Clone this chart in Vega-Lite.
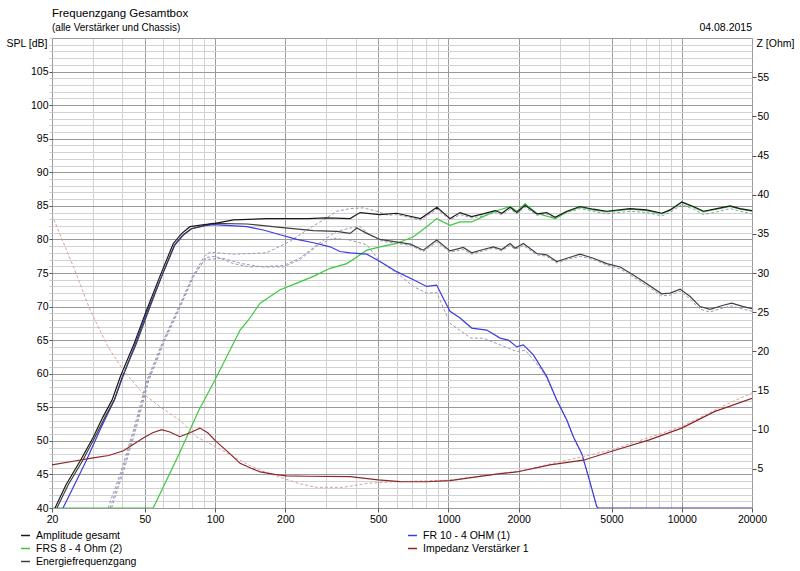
{
  "$schema": "https://vega.github.io/schema/vega-lite/v6.json",
  "autosize": "none",
  "padding": {"left": 52, "top": 38, "right": 48, "bottom": 63},
  "width": 700,
  "height": 470,
  "background": "white",
  "title": {
    "text": "Frequenzgang Gesamtbox",
    "subtitle": "(alle Verstärker und Chassis)",
    "anchor": "start",
    "frame": "group",
    "offset": -10,
    "font": "Liberation Sans",
    "fontSize": 11.5,
    "fontWeight": "normal",
    "color": "#000000",
    "subtitleFont": "Liberation Sans",
    "subtitleFontSize": 10,
    "subtitleColor": "#000000",
    "subtitlePadding": 4
  },
  "datasets": {
    "curves": [
      {"s": "dA", "f": 34.8, "v": 40}, {"s": "dA", "f": 40, "v": 46}, {"s": "dA", "f": 45, "v": 52}, {"s": "dA", "f": 51, "v": 59},
      {"s": "dA", "f": 60, "v": 65}, {"s": "dA", "f": 70, "v": 70}, {"s": "dA", "f": 80, "v": 74.5}, {"s": "dA", "f": 90, "v": 77.5},
      {"s": "dA", "f": 95, "v": 78.1}, {"s": "dA", "f": 120, "v": 77.8}, {"s": "dA", "f": 166, "v": 78.0}, {"s": "dA", "f": 209, "v": 79.7},
      {"s": "dA", "f": 255, "v": 81.7}, {"s": "dA", "f": 291, "v": 82.9}, {"s": "dA", "f": 332, "v": 84.2}, {"s": "dA", "f": 379, "v": 84.6},
      {"s": "dA", "f": 432, "v": 84.7}, {"s": "dA", "f": 493, "v": 84.2}, {"s": "dA", "f": 550, "v": 83.6}, {"s": "dA", "f": 600, "v": 83.7},
      {"s": "dA", "f": 760, "v": 82.9}, {"s": "dA", "f": 893, "v": 84.5}, {"s": "dA", "f": 1016, "v": 82.9}, {"s": "dA", "f": 1122, "v": 83.7},
      {"s": "dA", "f": 1258, "v": 83.2}, {"s": "dA", "f": 1408, "v": 83.5}, {"s": "dA", "f": 1584, "v": 84.0}, {"s": "dA", "f": 1693, "v": 83.7},
      {"s": "dA", "f": 1838, "v": 84.5}, {"s": "dA", "f": 1964, "v": 83.8}, {"s": "dA", "f": 2132, "v": 84.8}, {"s": "dA", "f": 2392, "v": 83.6},
      {"s": "dA", "f": 2637, "v": 83.8}, {"s": "dA", "f": 2866, "v": 83.1}, {"s": "dA", "f": 3217, "v": 84.0}, {"s": "dA", "f": 3666, "v": 84.6},
      {"s": "dA", "f": 4180, "v": 84.2}, {"s": "dA", "f": 4772, "v": 83.8}, {"s": "dA", "f": 6008, "v": 84.2}, {"s": "dA", "f": 7080, "v": 84.0},
      {"s": "dA", "f": 8205, "v": 83.5}, {"s": "dA", "f": 8912, "v": 84.0}, {"s": "dA", "f": 10000, "v": 85.2}, {"s": "dA", "f": 11220, "v": 84.5},
      {"s": "dA", "f": 12390, "v": 83.7}, {"s": "dA", "f": 14130, "v": 84.1}, {"s": "dA", "f": 16110, "v": 84.6}, {"s": "dA", "f": 17780, "v": 84.2},
      {"s": "dA", "f": 20000, "v": 83.8},

      {"s": "dE", "f": 36, "v": 40}, {"s": "dE", "f": 41, "v": 46}, {"s": "dE", "f": 46, "v": 52}, {"s": "dE", "f": 52, "v": 59},
      {"s": "dE", "f": 61, "v": 65}, {"s": "dE", "f": 71, "v": 70}, {"s": "dE", "f": 81, "v": 74.5}, {"s": "dE", "f": 91, "v": 77.3},
      {"s": "dE", "f": 100, "v": 77.5}, {"s": "dE", "f": 120, "v": 76.4}, {"s": "dE", "f": 141, "v": 75.9}, {"s": "dE", "f": 196, "v": 76.1},
      {"s": "dE", "f": 231, "v": 77.2}, {"s": "dE", "f": 273, "v": 79.2}, {"s": "dE", "f": 301, "v": 80.2}, {"s": "dE", "f": 332, "v": 81.2},
      {"s": "dE", "f": 379, "v": 81.7}, {"s": "dE", "f": 418, "v": 81.9}, {"s": "dE", "f": 461, "v": 80.7}, {"s": "dE", "f": 524, "v": 79.7},
      {"s": "dE", "f": 577, "v": 79.5}, {"s": "dE", "f": 688, "v": 79.1}, {"s": "dE", "f": 780, "v": 78.2}, {"s": "dE", "f": 891, "v": 79.6},
      {"s": "dE", "f": 1016, "v": 78.1}, {"s": "dE", "f": 1159, "v": 78.5}, {"s": "dE", "f": 1258, "v": 77.8}, {"s": "dE", "f": 1408, "v": 78.3},
      {"s": "dE", "f": 1558, "v": 78.7}, {"s": "dE", "f": 1693, "v": 78.3}, {"s": "dE", "f": 1838, "v": 79.1}, {"s": "dE", "f": 1931, "v": 78.5},
      {"s": "dE", "f": 2095, "v": 79.1}, {"s": "dE", "f": 2392, "v": 77.7}, {"s": "dE", "f": 2637, "v": 77.5}, {"s": "dE", "f": 2913, "v": 76.5},
      {"s": "dE", "f": 3217, "v": 77.0}, {"s": "dE", "f": 3666, "v": 77.5}, {"s": "dE", "f": 4180, "v": 77.0}, {"s": "dE", "f": 4772, "v": 76.2},
      {"s": "dE", "f": 5444, "v": 75.6}, {"s": "dE", "f": 6203, "v": 74.4}, {"s": "dE", "f": 7080, "v": 73.1}, {"s": "dE", "f": 8205, "v": 71.6},
      {"s": "dE", "f": 8912, "v": 71.7}, {"s": "dE", "f": 9844, "v": 72.3}, {"s": "dE", "f": 10860, "v": 71.1}, {"s": "dE", "f": 11980, "v": 69.6},
      {"s": "dE", "f": 13220, "v": 69.2}, {"s": "dE", "f": 15070, "v": 69.8}, {"s": "dE", "f": 16370, "v": 70.1}, {"s": "dE", "f": 18370, "v": 69.6},
      {"s": "dE", "f": 20000, "v": 69.3},

      {"s": "dB", "f": 35.5, "v": 40}, {"s": "dB", "f": 40.5, "v": 46}, {"s": "dB", "f": 45.5, "v": 52}, {"s": "dB", "f": 51.5, "v": 59},
      {"s": "dB", "f": 60.5, "v": 65}, {"s": "dB", "f": 70.5, "v": 70}, {"s": "dB", "f": 80.5, "v": 74.5}, {"s": "dB", "f": 90.5, "v": 77.0},
      {"s": "dB", "f": 108, "v": 77.2}, {"s": "dB", "f": 130, "v": 76.4}, {"s": "dB", "f": 160, "v": 75.9}, {"s": "dB", "f": 196, "v": 75.9},
      {"s": "dB", "f": 231, "v": 77.0}, {"s": "dB", "f": 273, "v": 79.0}, {"s": "dB", "f": 319, "v": 80.2}, {"s": "dB", "f": 379, "v": 79.9},
      {"s": "dB", "f": 447, "v": 79.2}, {"s": "dB", "f": 509, "v": 76.7}, {"s": "dB", "f": 600, "v": 75.0}, {"s": "dB", "f": 708, "v": 73.0},
      {"s": "dB", "f": 807, "v": 72.0}, {"s": "dB", "f": 891, "v": 72.1}, {"s": "dB", "f": 1016, "v": 67.5}, {"s": "dB", "f": 1250, "v": 65.3},
      {"s": "dB", "f": 1408, "v": 65.3}, {"s": "dB", "f": 1665, "v": 64.3}, {"s": "dB", "f": 1964, "v": 63.3}, {"s": "dB", "f": 2140, "v": 63.5},
      {"s": "dB", "f": 2450, "v": 61.0}, {"s": "dB", "f": 2637, "v": 59.4}, {"s": "dB", "f": 2913, "v": 56.0}, {"s": "dB", "f": 3217, "v": 53.0},
      {"s": "dB", "f": 3432, "v": 50.5}, {"s": "dB", "f": 3729, "v": 48.0}, {"s": "dB", "f": 3979, "v": 44.6}, {"s": "dB", "f": 4323, "v": 40.1},

      {"s": "dZ", "f": 20, "v": 37.4}, {"s": "dZ", "f": 24.7, "v": 30.8}, {"s": "dZ", "f": 29.1, "v": 25.3}, {"s": "dZ", "f": 34.7, "v": 20.6},
      {"s": "dZ", "f": 40.4, "v": 17.6}, {"s": "dZ", "f": 49.2, "v": 14.6}, {"s": "dZ", "f": 58.2, "v": 12.9}, {"s": "dZ", "f": 70.6, "v": 11.2},
      {"s": "dZ", "f": 83.1, "v": 9.1}, {"s": "dZ", "f": 101, "v": 7.8}, {"s": "dZ", "f": 128, "v": 6.1}, {"s": "dZ", "f": 141, "v": 5.4},
      {"s": "dZ", "f": 160, "v": 4.7}, {"s": "dZ", "f": 196, "v": 3.8}, {"s": "dZ", "f": 230, "v": 3.1}, {"s": "dZ", "f": 273, "v": 2.64},
      {"s": "dZ", "f": 355, "v": 2.64}, {"s": "dZ", "f": 447, "v": 3.15}, {"s": "dZ", "f": 600, "v": 3.36}, {"s": "dZ", "f": 1000, "v": 3.55},
      {"s": "dZ", "f": 2000, "v": 4.7}, {"s": "dZ", "f": 5000, "v": 7.4}, {"s": "dZ", "f": 10000, "v": 10.4}, {"s": "dZ", "f": 15000, "v": 13.0},
      {"s": "dZ", "f": 20000, "v": 14.7},

      {"s": "FRS 8 - 4 Ohm (2)", "f": 20, "v": 40}, {"s": "FRS 8 - 4 Ohm (2)", "f": 54.3, "v": 40}, {"s": "FRS 8 - 4 Ohm (2)", "f": 70, "v": 48},
      {"s": "FRS 8 - 4 Ohm (2)", "f": 85, "v": 54.5}, {"s": "FRS 8 - 4 Ohm (2)", "f": 100, "v": 59.1}, {"s": "FRS 8 - 4 Ohm (2)", "f": 128, "v": 66.5},
      {"s": "FRS 8 - 4 Ohm (2)", "f": 139, "v": 68.0}, {"s": "FRS 8 - 4 Ohm (2)", "f": 156, "v": 70.5}, {"s": "FRS 8 - 4 Ohm (2)", "f": 190, "v": 72.5},
      {"s": "FRS 8 - 4 Ohm (2)", "f": 224, "v": 73.5}, {"s": "FRS 8 - 4 Ohm (2)", "f": 264, "v": 74.5}, {"s": "FRS 8 - 4 Ohm (2)", "f": 311, "v": 75.7},
      {"s": "FRS 8 - 4 Ohm (2)", "f": 367, "v": 76.4}, {"s": "FRS 8 - 4 Ohm (2)", "f": 405, "v": 77.4}, {"s": "FRS 8 - 4 Ohm (2)", "f": 447, "v": 78.4},
      {"s": "FRS 8 - 4 Ohm (2)", "f": 509, "v": 78.9}, {"s": "FRS 8 - 4 Ohm (2)", "f": 600, "v": 79.4}, {"s": "FRS 8 - 4 Ohm (2)", "f": 708, "v": 80.4},
      {"s": "FRS 8 - 4 Ohm (2)", "f": 807, "v": 81.9}, {"s": "FRS 8 - 4 Ohm (2)", "f": 891, "v": 83.1}, {"s": "FRS 8 - 4 Ohm (2)", "f": 1016, "v": 82.1},
      {"s": "FRS 8 - 4 Ohm (2)", "f": 1122, "v": 82.6}, {"s": "FRS 8 - 4 Ohm (2)", "f": 1258, "v": 82.6}, {"s": "FRS 8 - 4 Ohm (2)", "f": 1408, "v": 83.4},
      {"s": "FRS 8 - 4 Ohm (2)", "f": 1584, "v": 84.2}, {"s": "FRS 8 - 4 Ohm (2)", "f": 1838, "v": 84.9}, {"s": "FRS 8 - 4 Ohm (2)", "f": 1964, "v": 84.2},
      {"s": "FRS 8 - 4 Ohm (2)", "f": 2132, "v": 85.3}, {"s": "FRS 8 - 4 Ohm (2)", "f": 2392, "v": 83.9}, {"s": "FRS 8 - 4 Ohm (2)", "f": 2866, "v": 83.1},
      {"s": "FRS 8 - 4 Ohm (2)", "f": 3217, "v": 84.1}, {"s": "FRS 8 - 4 Ohm (2)", "f": 3666, "v": 84.8}, {"s": "FRS 8 - 4 Ohm (2)", "f": 4180, "v": 84.4},
      {"s": "FRS 8 - 4 Ohm (2)", "f": 4772, "v": 84.1}, {"s": "FRS 8 - 4 Ohm (2)", "f": 6008, "v": 84.5}, {"s": "FRS 8 - 4 Ohm (2)", "f": 7080, "v": 84.3},
      {"s": "FRS 8 - 4 Ohm (2)", "f": 8205, "v": 83.8}, {"s": "FRS 8 - 4 Ohm (2)", "f": 8912, "v": 84.3}, {"s": "FRS 8 - 4 Ohm (2)", "f": 10000, "v": 85.5},
      {"s": "FRS 8 - 4 Ohm (2)", "f": 11220, "v": 84.8}, {"s": "FRS 8 - 4 Ohm (2)", "f": 12390, "v": 84.1}, {"s": "FRS 8 - 4 Ohm (2)", "f": 14130, "v": 84.5},
      {"s": "FRS 8 - 4 Ohm (2)", "f": 16110, "v": 84.9}, {"s": "FRS 8 - 4 Ohm (2)", "f": 17780, "v": 84.5}, {"s": "FRS 8 - 4 Ohm (2)", "f": 20000, "v": 84.2},

      {"s": "FR 10 - 4 OHM (1)", "f": 22.3, "v": 40}, {"s": "FR 10 - 4 OHM (1)", "f": 25, "v": 43.5}, {"s": "FR 10 - 4 OHM (1)", "f": 28, "v": 47},
      {"s": "FR 10 - 4 OHM (1)", "f": 32, "v": 51.5}, {"s": "FR 10 - 4 OHM (1)", "f": 37, "v": 56.1}, {"s": "FR 10 - 4 OHM (1)", "f": 39.8, "v": 59.1},
      {"s": "FR 10 - 4 OHM (1)", "f": 45, "v": 64}, {"s": "FR 10 - 4 OHM (1)", "f": 51.5, "v": 69.5}, {"s": "FR 10 - 4 OHM (1)", "f": 59, "v": 74.5},
      {"s": "FR 10 - 4 OHM (1)", "f": 67.3, "v": 79.2}, {"s": "FR 10 - 4 OHM (1)", "f": 73, "v": 80.6}, {"s": "FR 10 - 4 OHM (1)", "f": 79.3, "v": 81.6},
      {"s": "FR 10 - 4 OHM (1)", "f": 90, "v": 82.0}, {"s": "FR 10 - 4 OHM (1)", "f": 98, "v": 82.2}, {"s": "FR 10 - 4 OHM (1)", "f": 137, "v": 81.9},
      {"s": "FR 10 - 4 OHM (1)", "f": 161, "v": 81.4}, {"s": "FR 10 - 4 OHM (1)", "f": 190, "v": 80.7}, {"s": "FR 10 - 4 OHM (1)", "f": 224, "v": 80.0},
      {"s": "FR 10 - 4 OHM (1)", "f": 264, "v": 79.5}, {"s": "FR 10 - 4 OHM (1)", "f": 311, "v": 78.9}, {"s": "FR 10 - 4 OHM (1)", "f": 343, "v": 78.2},
      {"s": "FR 10 - 4 OHM (1)", "f": 379, "v": 78.0}, {"s": "FR 10 - 4 OHM (1)", "f": 447, "v": 77.8}, {"s": "FR 10 - 4 OHM (1)", "f": 509, "v": 76.7},
      {"s": "FR 10 - 4 OHM (1)", "f": 600, "v": 75.2}, {"s": "FR 10 - 4 OHM (1)", "f": 708, "v": 74.0}, {"s": "FR 10 - 4 OHM (1)", "f": 807, "v": 73.0},
      {"s": "FR 10 - 4 OHM (1)", "f": 891, "v": 73.2}, {"s": "FR 10 - 4 OHM (1)", "f": 936, "v": 71.7}, {"s": "FR 10 - 4 OHM (1)", "f": 1016, "v": 69.3},
      {"s": "FR 10 - 4 OHM (1)", "f": 1122, "v": 68.3}, {"s": "FR 10 - 4 OHM (1)", "f": 1258, "v": 66.8}, {"s": "FR 10 - 4 OHM (1)", "f": 1460, "v": 66.5},
      {"s": "FR 10 - 4 OHM (1)", "f": 1665, "v": 65.3}, {"s": "FR 10 - 4 OHM (1)", "f": 1807, "v": 65.0}, {"s": "FR 10 - 4 OHM (1)", "f": 1964, "v": 64.0},
      {"s": "FR 10 - 4 OHM (1)", "f": 2095, "v": 64.3}, {"s": "FR 10 - 4 OHM (1)", "f": 2312, "v": 62.8}, {"s": "FR 10 - 4 OHM (1)", "f": 2637, "v": 59.6},
      {"s": "FR 10 - 4 OHM (1)", "f": 2913, "v": 56.1}, {"s": "FR 10 - 4 OHM (1)", "f": 3217, "v": 53.1}, {"s": "FR 10 - 4 OHM (1)", "f": 3432, "v": 50.6},
      {"s": "FR 10 - 4 OHM (1)", "f": 3729, "v": 48.1}, {"s": "FR 10 - 4 OHM (1)", "f": 3979, "v": 44.7}, {"s": "FR 10 - 4 OHM (1)", "f": 4323, "v": 40.2},
      {"s": "FR 10 - 4 OHM (1)", "f": 4400, "v": 40}, {"s": "FR 10 - 4 OHM (1)", "f": 20000, "v": 40},

      {"s": "Energiefrequenzgang", "f": 21, "v": 40}, {"s": "Energiefrequenzgang", "f": 23.5, "v": 43.5}, {"s": "Energiefrequenzgang", "f": 27, "v": 47},
      {"s": "Energiefrequenzgang", "f": 30.5, "v": 50.5}, {"s": "Energiefrequenzgang", "f": 33.7, "v": 53.5}, {"s": "Energiefrequenzgang", "f": 37, "v": 56.1},
      {"s": "Energiefrequenzgang", "f": 40, "v": 59.5}, {"s": "Energiefrequenzgang", "f": 46, "v": 64.5}, {"s": "Energiefrequenzgang", "f": 52, "v": 69.5},
      {"s": "Energiefrequenzgang", "f": 59, "v": 74.5}, {"s": "Energiefrequenzgang", "f": 67, "v": 79.2}, {"s": "Energiefrequenzgang", "f": 73, "v": 80.7},
      {"s": "Energiefrequenzgang", "f": 79, "v": 81.6}, {"s": "Energiefrequenzgang", "f": 90, "v": 82.1}, {"s": "Energiefrequenzgang", "f": 98, "v": 82.4},
      {"s": "Energiefrequenzgang", "f": 137, "v": 82.3}, {"s": "Energiefrequenzgang", "f": 190, "v": 81.8}, {"s": "Energiefrequenzgang", "f": 264, "v": 81.3},
      {"s": "Energiefrequenzgang", "f": 332, "v": 81.2}, {"s": "Energiefrequenzgang", "f": 379, "v": 80.9}, {"s": "Energiefrequenzgang", "f": 405, "v": 81.7},
      {"s": "Energiefrequenzgang", "f": 447, "v": 80.9}, {"s": "Energiefrequenzgang", "f": 509, "v": 80.0}, {"s": "Energiefrequenzgang", "f": 577, "v": 79.7},
      {"s": "Energiefrequenzgang", "f": 688, "v": 79.3}, {"s": "Energiefrequenzgang", "f": 780, "v": 78.4}, {"s": "Energiefrequenzgang", "f": 891, "v": 79.9},
      {"s": "Energiefrequenzgang", "f": 1016, "v": 78.3}, {"s": "Energiefrequenzgang", "f": 1159, "v": 78.8}, {"s": "Energiefrequenzgang", "f": 1258, "v": 78.0},
      {"s": "Energiefrequenzgang", "f": 1408, "v": 78.5}, {"s": "Energiefrequenzgang", "f": 1558, "v": 78.9}, {"s": "Energiefrequenzgang", "f": 1693, "v": 78.5},
      {"s": "Energiefrequenzgang", "f": 1838, "v": 79.4}, {"s": "Energiefrequenzgang", "f": 1931, "v": 78.7}, {"s": "Energiefrequenzgang", "f": 2095, "v": 79.4},
      {"s": "Energiefrequenzgang", "f": 2392, "v": 77.9}, {"s": "Energiefrequenzgang", "f": 2637, "v": 77.7}, {"s": "Energiefrequenzgang", "f": 2913, "v": 76.7},
      {"s": "Energiefrequenzgang", "f": 3217, "v": 77.2}, {"s": "Energiefrequenzgang", "f": 3666, "v": 77.8}, {"s": "Energiefrequenzgang", "f": 4180, "v": 77.2},
      {"s": "Energiefrequenzgang", "f": 4772, "v": 76.4}, {"s": "Energiefrequenzgang", "f": 5444, "v": 75.9}, {"s": "Energiefrequenzgang", "f": 6203, "v": 74.7},
      {"s": "Energiefrequenzgang", "f": 7080, "v": 73.4}, {"s": "Energiefrequenzgang", "f": 8205, "v": 71.9}, {"s": "Energiefrequenzgang", "f": 8912, "v": 72.0},
      {"s": "Energiefrequenzgang", "f": 9844, "v": 72.6}, {"s": "Energiefrequenzgang", "f": 10860, "v": 71.5}, {"s": "Energiefrequenzgang", "f": 11980, "v": 70.0},
      {"s": "Energiefrequenzgang", "f": 13220, "v": 69.6}, {"s": "Energiefrequenzgang", "f": 15070, "v": 70.2}, {"s": "Energiefrequenzgang", "f": 16370, "v": 70.5},
      {"s": "Energiefrequenzgang", "f": 18370, "v": 70.0}, {"s": "Energiefrequenzgang", "f": 20000, "v": 69.7},

      {"s": "Amplitude gesamt", "f": 20.6, "v": 40}, {"s": "Amplitude gesamt", "f": 23, "v": 43.5}, {"s": "Amplitude gesamt", "f": 26.4, "v": 47},
      {"s": "Amplitude gesamt", "f": 30, "v": 50.5}, {"s": "Amplitude gesamt", "f": 33, "v": 53.5}, {"s": "Amplitude gesamt", "f": 36.2, "v": 56.1},
      {"s": "Amplitude gesamt", "f": 39.2, "v": 59.5}, {"s": "Amplitude gesamt", "f": 45, "v": 64.5}, {"s": "Amplitude gesamt", "f": 50.9, "v": 69.5},
      {"s": "Amplitude gesamt", "f": 58, "v": 74.5}, {"s": "Amplitude gesamt", "f": 66.2, "v": 79.4}, {"s": "Amplitude gesamt", "f": 72, "v": 80.9},
      {"s": "Amplitude gesamt", "f": 78, "v": 81.9}, {"s": "Amplitude gesamt", "f": 90, "v": 82.2}, {"s": "Amplitude gesamt", "f": 100, "v": 82.4},
      {"s": "Amplitude gesamt", "f": 120, "v": 82.9}, {"s": "Amplitude gesamt", "f": 166, "v": 83.1}, {"s": "Amplitude gesamt", "f": 250, "v": 83.1},
      {"s": "Amplitude gesamt", "f": 300, "v": 83.2}, {"s": "Amplitude gesamt", "f": 379, "v": 83.1}, {"s": "Amplitude gesamt", "f": 418, "v": 84.0},
      {"s": "Amplitude gesamt", "f": 509, "v": 83.7}, {"s": "Amplitude gesamt", "f": 600, "v": 83.9}, {"s": "Amplitude gesamt", "f": 760, "v": 83.1},
      {"s": "Amplitude gesamt", "f": 893, "v": 84.8}, {"s": "Amplitude gesamt", "f": 1016, "v": 83.1}, {"s": "Amplitude gesamt", "f": 1122, "v": 84.0},
      {"s": "Amplitude gesamt", "f": 1258, "v": 83.4}, {"s": "Amplitude gesamt", "f": 1408, "v": 83.8}, {"s": "Amplitude gesamt", "f": 1584, "v": 84.3},
      {"s": "Amplitude gesamt", "f": 1693, "v": 83.9}, {"s": "Amplitude gesamt", "f": 1838, "v": 84.8}, {"s": "Amplitude gesamt", "f": 1964, "v": 84.0},
      {"s": "Amplitude gesamt", "f": 2132, "v": 85.1}, {"s": "Amplitude gesamt", "f": 2392, "v": 83.8}, {"s": "Amplitude gesamt", "f": 2637, "v": 84.0},
      {"s": "Amplitude gesamt", "f": 2866, "v": 83.3}, {"s": "Amplitude gesamt", "f": 3217, "v": 84.2}, {"s": "Amplitude gesamt", "f": 3666, "v": 84.9},
      {"s": "Amplitude gesamt", "f": 4180, "v": 84.5}, {"s": "Amplitude gesamt", "f": 4772, "v": 84.2}, {"s": "Amplitude gesamt", "f": 6008, "v": 84.6},
      {"s": "Amplitude gesamt", "f": 7080, "v": 84.4}, {"s": "Amplitude gesamt", "f": 8205, "v": 83.9}, {"s": "Amplitude gesamt", "f": 8912, "v": 84.4},
      {"s": "Amplitude gesamt", "f": 10000, "v": 85.6}, {"s": "Amplitude gesamt", "f": 11220, "v": 84.9}, {"s": "Amplitude gesamt", "f": 12390, "v": 84.2},
      {"s": "Amplitude gesamt", "f": 14130, "v": 84.6}, {"s": "Amplitude gesamt", "f": 16110, "v": 85.0}, {"s": "Amplitude gesamt", "f": 17780, "v": 84.6},
      {"s": "Amplitude gesamt", "f": 20000, "v": 84.3},

      {"s": "Impedanz Verstärker 1", "f": 20, "v": 5.5}, {"s": "Impedanz Verstärker 1", "f": 25, "v": 6.0}, {"s": "Impedanz Verstärker 1", "f": 30, "v": 6.4},
      {"s": "Impedanz Verstärker 1", "f": 35, "v": 6.7}, {"s": "Impedanz Verstärker 1", "f": 40.5, "v": 7.3}, {"s": "Impedanz Verstärker 1", "f": 49, "v": 8.9},
      {"s": "Impedanz Verstärker 1", "f": 54, "v": 9.6}, {"s": "Impedanz Verstärker 1", "f": 59, "v": 10.0}, {"s": "Impedanz Verstärker 1", "f": 64, "v": 9.7},
      {"s": "Impedanz Verstärker 1", "f": 70.6, "v": 9.1}, {"s": "Impedanz Verstärker 1", "f": 78, "v": 9.6}, {"s": "Impedanz Verstärker 1", "f": 86, "v": 10.2},
      {"s": "Impedanz Verstärker 1", "f": 93, "v": 9.6}, {"s": "Impedanz Verstärker 1", "f": 101, "v": 8.5}, {"s": "Impedanz Verstärker 1", "f": 115, "v": 7.0},
      {"s": "Impedanz Verstärker 1", "f": 128, "v": 5.7}, {"s": "Impedanz Verstärker 1", "f": 142, "v": 5.1}, {"s": "Impedanz Verstärker 1", "f": 156, "v": 4.6},
      {"s": "Impedanz Verstärker 1", "f": 180, "v": 4.3}, {"s": "Impedanz Verstärker 1", "f": 202, "v": 4.1}, {"s": "Impedanz Verstärker 1", "f": 250, "v": 4.05},
      {"s": "Impedanz Verstärker 1", "f": 379, "v": 4.0}, {"s": "Impedanz Verstärker 1", "f": 500, "v": 3.6}, {"s": "Impedanz Verstärker 1", "f": 620, "v": 3.36},
      {"s": "Impedanz Verstärker 1", "f": 800, "v": 3.35}, {"s": "Impedanz Verstärker 1", "f": 1016, "v": 3.5}, {"s": "Impedanz Verstärker 1", "f": 1415, "v": 4.1},
      {"s": "Impedanz Verstärker 1", "f": 1665, "v": 4.4}, {"s": "Impedanz Verstärker 1", "f": 1964, "v": 4.6}, {"s": "Impedanz Verstärker 1", "f": 2726, "v": 5.5},
      {"s": "Impedanz Verstärker 1", "f": 3782, "v": 6.1}, {"s": "Impedanz Verstärker 1", "f": 5220, "v": 7.4}, {"s": "Impedanz Verstärker 1", "f": 7256, "v": 8.7},
      {"s": "Impedanz Verstärker 1", "f": 10000, "v": 10.2}, {"s": "Impedanz Verstärker 1", "f": 13800, "v": 12.3}, {"s": "Impedanz Verstärker 1", "f": 20000, "v": 14.0}
    ],
    "stamp": [{"f": 20000, "v": 110, "t": "04.08.2015"}]
  },
  "data": {"name": "curves"},
  "layer": [
    {
      "encoding": {
        "x": {
          "field": "f",
          "type": "quantitative",
          "scale": {"type": "log", "domain": [20, 20000]},
          "axis": {
            "title": null,
            "values": [20, 30, 40, 50, 60, 70, 80, 90, 100, 200, 300, 400, 500, 600, 700, 800, 900, 1000, 2000, 3000, 4000, 5000, 6000, 7000, 8000, 9000, 10000, 20000],
            "format": "d",
            "labelExpr": "indexof([20,50,100,200,500,1000,2000,5000,10000,20000], datum.value) >= 0 ? datum.label : ''",
            "labelOverlap": false,
            "labelFlush": false,
            "labelPadding": 2,
            "domain": false,
            "grid": true,
            "gridColor": {"condition": {"test": "indexof([20,50,100,200,500,1000,2000,5000,10000,20000], datum.value) >= 0", "value": "#9a9a9a"}, "value": "#d2d2d2"},
            "tickColor": {"condition": {"test": "indexof([20,50,100,200,500,1000,2000,5000,10000,20000], datum.value) >= 0", "value": "#555555"}, "value": "transparent"},
            "tickSize": 4
          }
        },
        "y": {
          "field": "v",
          "type": "quantitative",
          "scale": {"domain": [40, 110]},
          "axis": {
            "title": "SPL [dB]",
            "titleAngle": 0,
            "titleAlign": "right",
            "titleBaseline": "middle",
            "titleX": -5,
            "titleY": 5,
            "values": [40, 41, 42, 43, 44, 45, 46, 47, 48, 49, 50, 51, 52, 53, 54, 55, 56, 57, 58, 59, 60, 61, 62, 63, 64, 65, 66, 67, 68, 69, 70, 71, 72, 73, 74, 75, 76, 77, 78, 79, 80, 81, 82, 83, 84, 85, 86, 87, 88, 89, 90, 91, 92, 93, 94, 95, 96, 97, 98, 99, 100, 101, 102, 103, 104, 105, 106, 107, 108, 109, 110],
            "labelExpr": "datum.value % 5 === 0 && datum.value < 110 ? datum.label : ''",
            "labelOverlap": false,
            "labelFlush": false,
            "labelPadding": 1,
            "domain": false,
            "grid": true,
            "gridColor": {"condition": {"test": "datum.value % 5 === 0", "value": "#9a9a9a"}, "value": "#d2d2d2"},
            "tickColor": {"condition": {"test": "datum.value % 5 === 0 && datum.value < 110", "value": "#555555"}, "value": "#c8c8c8"},
            "tickSize": 3
          }
        }
      },
      "layer": [
        {
          "transform": [{"filter": {"field": "s", "oneOf": ["dA", "dE", "dB"]}}],
          "mark": {"type": "line", "strokeDash": [3, 2], "strokeWidth": 1, "color": "#9a9ab8", "clip": true},
          "encoding": {"detail": {"field": "s", "type": "nominal"}}
        },
        {
          "transform": [{"filter": {"field": "s", "oneOf": ["FRS 8 - 4 Ohm (2)", "FR 10 - 4 OHM (1)", "Energiefrequenzgang", "Amplitude gesamt"]}}],
          "mark": {"type": "line", "strokeWidth": 1.2, "clip": true},
          "encoding": {
            "color": {
              "field": "s",
              "type": "nominal",
              "scale": {
                "domain": ["Amplitude gesamt", "FRS 8 - 4 Ohm (2)", "Energiefrequenzgang", "FR 10 - 4 OHM (1)", "Impedanz Verstärker 1"],
                "range": ["#1a1a1a", "#3cc83c", "#404040", "#3c3ce0", "#8c2828"]
              },
              "legend": {
                "title": null,
                "orient": "none",
                "legendX": -32,
                "legendY": 492,
                "columns": 2,
                "columnPadding": 268,
                "rowPadding": 2,
                "symbolType": "stroke",
                "symbolSize": 80,
                "symbolStrokeWidth": 1.5,
                "labelFont": "Liberation Sans",
                "labelFontSize": 10.5,
                "labelColor": "#000000",
                "labelOffset": 5
              }
            }
          }
        },
        {
          "data": {"name": "stamp"},
          "mark": {"type": "text", "align": "right", "baseline": "alphabetic", "dy": -7, "font": "Liberation Sans", "fontSize": 10.5, "color": "#000000"},
          "encoding": {
            "text": {"field": "t", "type": "nominal"}
          }
        }
      ]
    },
    {
      "encoding": {
        "x": {"field": "f", "type": "quantitative", "scale": {"type": "log", "domain": [20, 20000]}},
        "y": {
          "field": "v",
          "type": "quantitative",
          "scale": {"domain": [0, 60]},
          "axis": {
            "orient": "right",
            "title": "Z [Ohm]",
            "titleAngle": 0,
            "titleAlign": "left",
            "titleBaseline": "middle",
            "titleX": 4,
            "titleY": 5,
            "values": [0, 5, 10, 15, 20, 25, 30, 35, 40, 45, 50, 55, 60],
            "labelExpr": "datum.value > 0 && datum.value < 60 ? datum.label : ''",
            "labelOverlap": false,
            "labelFlush": false,
            "labelPadding": 1,
            "domain": false,
            "grid": false,
            "tickColor": {"condition": {"test": "datum.value > 0 && datum.value < 60", "value": "#555555"}, "value": "transparent"},
            "tickSize": 4
          }
        }
      },
      "layer": [
        {
          "transform": [{"filter": {"field": "s", "equal": "dZ"}}],
          "mark": {"type": "line", "strokeDash": [3, 2], "strokeWidth": 1, "color": "#d8a0a0", "clip": true}
        },
        {
          "transform": [{"filter": {"field": "s", "equal": "Impedanz Verstärker 1"}}],
          "mark": {"type": "line", "strokeWidth": 1.2, "clip": true},
          "encoding": {
            "color": {
              "field": "s",
              "type": "nominal",
              "scale": {
                "domain": ["Amplitude gesamt", "FRS 8 - 4 Ohm (2)", "Energiefrequenzgang", "FR 10 - 4 OHM (1)", "Impedanz Verstärker 1"],
                "range": ["#1a1a1a", "#3cc83c", "#404040", "#3c3ce0", "#8c2828"]
              }
            }
          }
        }
      ]
    }
  ],
  "resolve": {"scale": {"y": "independent"}},
  "config": {
    "view": {"stroke": null},
    "font": "Liberation Sans",
    "axis": {
      "labelFont": "Liberation Sans",
      "labelFontSize": 10.5,
      "labelColor": "#000000",
      "titleFont": "Liberation Sans",
      "titleFontSize": 10.5,
      "titleFontWeight": "normal",
      "titleColor": "#000000"
    }
  }
}
